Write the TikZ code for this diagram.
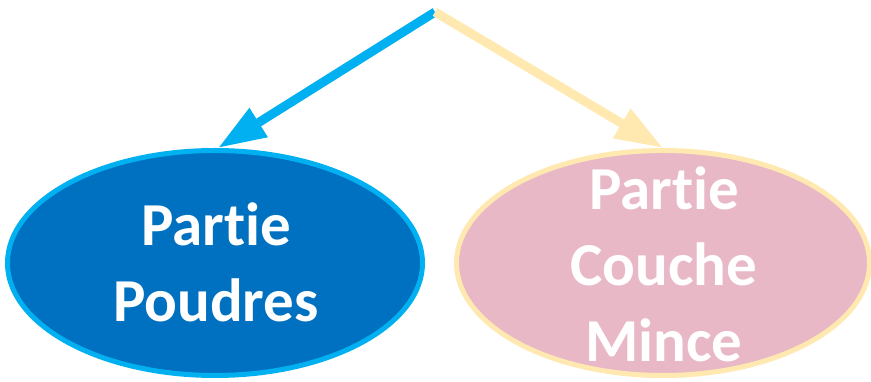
\documentclass[tikz,border=0pt]{standalone}
\usepackage{fontspec}
\setmainfont{Carlito}[Ligatures={NoCommon}]
\usetikzlibrary{arrows.meta,shapes.geometric}
\definecolor{cyanb}{HTML}{00B0F0}
\definecolor{blued}{HTML}{0070C0}
\definecolor{yell}{HTML}{FFE9B0}
\definecolor{pinkf}{HTML}{E8B8C6}
\tikzset{
  bubble/.style={ellipse, line width=5pt, inner sep=0pt},
  label/.style={text=white, align=center, inner sep=0pt,
    font=\fontsize{61}{76}\selectfont\bfseries},
  conn/.style={line width=9pt, -{Triangle[length=48pt,width=32pt]}}
}
\begin{document}
\begin{tikzpicture}[x=1pt,y=1pt]
\useasboundingbox (0,0) rectangle (871,382);
\node[bubble, draw=cyanb, fill=blued, minimum width=415pt, minimum height=225pt] (l) at (215,119) {};
\node[bubble, draw=yell, fill=pinkf, minimum width=413pt, minimum height=225pt] (r) at (663,119) {};
\node[label] (lt) at (216,120) {Partie\\Poudres};
\node[label] (rt) at (664,118) {Partie\\Couche\\Mince};
\coordinate (top) at (435,370);
\draw[conn, cyanb] (top) -- ([xshift=3pt]l.north);
\draw[conn, yell] (top) -- (r.north);
\end{tikzpicture}
\end{document}
